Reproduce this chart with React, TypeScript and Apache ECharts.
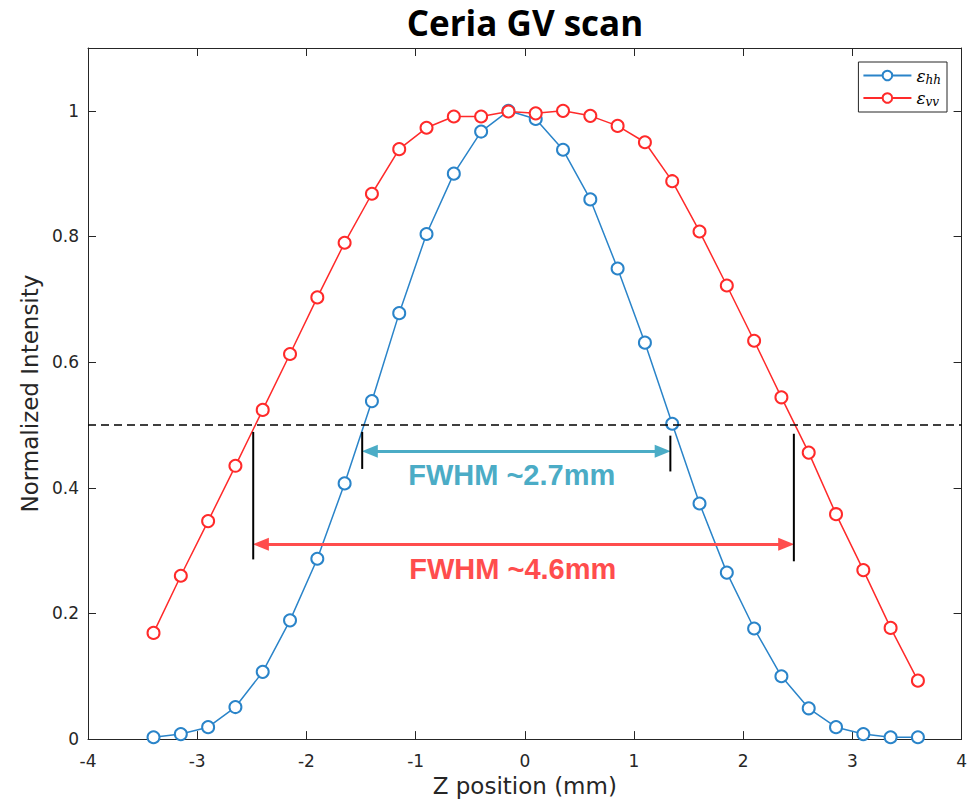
import React, { useEffect, useRef } from "react";
import * as echarts from "echarts";

const zPositions = [-3.4, -3.15, -2.9, -2.65, -2.4, -2.15, -1.9, -1.65, -1.4, -1.15, -0.9, -0.65, -0.4, -0.15, 0.1, 0.35, 0.6, 0.85, 1.1, 1.35, 1.6, 1.85, 2.1, 2.35, 2.6, 2.85, 3.1, 3.35, 3.6];
const hhValues = [0.003, 0.008, 0.019, 0.051, 0.107, 0.189, 0.287, 0.407, 0.538, 0.678, 0.804, 0.9, 0.967, 1.0, 0.987, 0.938, 0.859, 0.749, 0.631, 0.502, 0.375, 0.265, 0.176, 0.1, 0.049, 0.019, 0.008, 0.003, 0.003];
const vvValues = [0.169, 0.26, 0.347, 0.435, 0.524, 0.613, 0.703, 0.79, 0.868, 0.939, 0.973, 0.991, 0.991, 0.999, 0.996, 1.0, 0.992, 0.976, 0.95, 0.888, 0.808, 0.722, 0.634, 0.544, 0.456, 0.358, 0.269, 0.177, 0.093];

const seriesNames = ["hh", "vv"];
const halfMax = 0.5;
// FWHM markers: [x, yTop, yBottom]
const fwhmBars = [
  [-2.487, 0.489, 0.286],
  [2.464, 0.486, 0.283],
  [-1.489, 0.489, 0.43],
  [1.333, 0.483, 0.426],
];
const hhArrow = { x1: -1.489, x2: 1.333, y: 0.458 };
const vvArrow = { x1: -2.487, x2: 2.464, y: 0.31 };
const hhLabel = { text: "FWHM ~2.7mm", x: -0.12, y: 0.421 };
const vvLabel = { text: "FWHM ~4.6mm", x: -0.11, y: 0.27 };

const xTicks = { min: -4, max: 4, interval: 1 };
const yTicks = { min: 0, max: 1.1, interval: 0.2 };

const BLUE = "#2a84c9";
const RED = "#ff2a2a";
const TEAL = "#4BACC6";
const SALMON = "#FF4D4D";
const AXIS = "#262626";

export default function App() {
  const ref = useRef<HTMLDivElement>(null);
  useEffect(() => {
    if (!ref.current) return;
    const chart = echarts.init(ref.current, undefined, { renderer: "svg" });
    const arrowHalf = 0.07;
    const font = "Liberation Sans";
    const axisFont = "DejaVu Sans";
    const axisCommon = {
      axisLine: { show: true, onZero: false, lineStyle: { color: AXIS, width: 1 } },
      axisTick: { show: true, inside: true, length: 8, lineStyle: { color: AXIS } },
      splitLine: { show: false },
    };
    const option: any = {
      animation: false,
      backgroundColor: "#fff",
      graphic: [
        {
          type: "text",
          x: 525,
          y: 4,
          style: {
            text: "Ceria GV scan",
            font: "bold 35px 'Open Sans'",
            lineHeight: 36,
            fill: "#000",
            textAlign: "center",
            textVerticalAlign: "top",
          },
        },
      ],
      grid: { left: 88, right: 8, top: 48, bottom: 61, containLabel: false },
      legend: {
        data: seriesNames,
        orient: "vertical",
        right: 23,
        top: 62,
        itemWidth: 48,
        itemHeight: 12,
        itemGap: 4,
        padding: [5, 6, 4, 4],
        borderColor: AXIS,
        borderWidth: 1,
        backgroundColor: "#fff",
        formatter: (name: string) => `{e|ε}{s|${name}}`,
        textStyle: {
          rich: {
            e: { fontSize: 17, fontStyle: "italic", fontFamily: "DejaVu Serif", color: "#000" },
            s: { fontSize: 12, fontStyle: "italic", fontFamily: "DejaVu Serif", color: "#000", padding: [8, 0, 0, 0] },
          },
        },
      },
      xAxis: [
        {
          type: "value",
          ...xTicks,
          ...axisCommon,
          name: "Z position (mm)",
          nameLocation: "middle",
          nameGap: 31,
          nameTextStyle: { fontSize: 23, color: AXIS, fontFamily: axisFont },
          axisLabel: { fontSize: 17, color: AXIS, margin: 13, fontFamily: axisFont },
        },
        {
          type: "value",
          position: "top",
          ...xTicks,
          ...axisCommon,
          axisLabel: { show: false },
        },
      ],
      yAxis: [
        {
          type: "value",
          ...yTicks,
          ...axisCommon,
          name: "Normalized Intensity",
          nameLocation: "middle",
          nameGap: 45,
          nameTextStyle: { fontSize: 23, color: AXIS, fontFamily: axisFont },
          axisLabel: { fontSize: 17, color: AXIS, margin: 9, showMaxLabel: false, fontFamily: axisFont },
        },
        {
          type: "value",
          position: "right",
          ...yTicks,
          ...axisCommon,
          axisLabel: { show: false, showMaxLabel: false },
        },
      ],
      series: [
        {
          name: "hh",
          type: "line",
          data: zPositions.map((x, i) => [x, hhValues[i]]),
          symbol: "emptyCircle",
          symbolSize: 12,
          lineStyle: { color: BLUE, width: 1.5 },
          itemStyle: { color: BLUE, borderColor: BLUE, borderWidth: 1.5 },
          z: 3,
          markLine: {
            silent: true,
            symbol: "none",
            label: { show: false },
            lineStyle: { type: [8, 5], color: "#000", width: 1.5 },
            data: [{ yAxis: halfMax }],
          },
        },
        {
          name: "vv",
          type: "line",
          data: zPositions.map((x, i) => [x, vvValues[i]]),
          symbol: "emptyCircle",
          symbolSize: 12,
          lineStyle: { color: RED, width: 1.5 },
          itemStyle: { color: RED, borderColor: RED, borderWidth: 1.5 },
          z: 4,
        },
        ...fwhmBars.map((b, i) => ({
          name: "bar" + i,
          type: "line",
          data: [
            [b[0], b[1]],
            [b[0], b[2]],
          ],
          symbol: "none",
          silent: true,
          lineStyle: { color: "#000", width: 2 },
          z: 5,
        })),
        {
          name: "arrows",
          type: "line",
          data: [],
          silent: true,
          markLine: {
            silent: true,
            symbol: ["triangle", "triangle"],
            label: { show: false },
            data: [
              [
                { coord: [hhArrow.x1 + arrowHalf, hhArrow.y], lineStyle: { color: TEAL, width: 3, type: "solid" }, itemStyle: { color: TEAL } },
                { coord: [hhArrow.x2 - arrowHalf, hhArrow.y] },
              ],
              [
                { coord: [vvArrow.x1 + arrowHalf, vvArrow.y], lineStyle: { color: SALMON, width: 3, type: "solid" }, itemStyle: { color: SALMON } },
                { coord: [vvArrow.x2 - arrowHalf, vvArrow.y] },
              ],
            ],
            symbolSize: [13, 16],
          },
          z: 6,
        },
        {
          name: "labels",
          type: "scatter",
          silent: true,
          symbolSize: 0,
          itemStyle: { opacity: 1 },
          data: [
            { value: [hhLabel.x, hhLabel.y], label: { formatter: hhLabel.text, color: TEAL } },
            { value: [vvLabel.x, vvLabel.y], label: { formatter: vvLabel.text, color: SALMON } },
          ],
          label: { show: true, position: "inside", fontSize: 29, fontWeight: "bold", fontFamily: font, opacity: 1 },
          z: 7,
        },
      ],
    };
    chart.setOption(option);
    return () => chart.dispose();
  }, []);
  return <div ref={ref} style={{ position: "fixed", left: 0, top: 0, width: 970, height: 802 }} />;
}
